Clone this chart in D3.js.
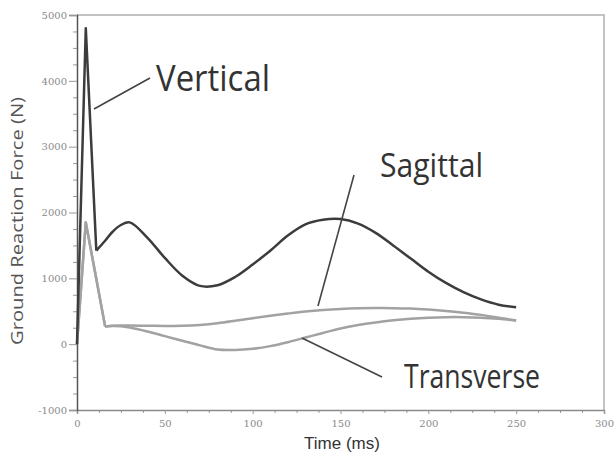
<!DOCTYPE html>
<html>
<head>
<meta charset="utf-8">
<script src="https://cdn.jsdelivr.net/npm/d3@7"></script>
<style>
  body { margin: 0; background: #fff; }
  svg { display: block; }
</style>
</head>
<body>
<div id="plot"></div>
<script>
// ---- data ----
var timeMs = [0, 5, 11, 16, 20, 25, 30, 40, 50, 60, 70, 80, 90, 100, 110, 120,
              130, 140, 150, 160, 170, 180, 190, 200, 210, 220, 230, 240, 250];
var vertical = [0, 4800, 1420, 1570, 1700, 1810, 1850, 1620, 1310, 1040, 885, 895, 1020, 1210, 1420, 1650,
                1820, 1890, 1900, 1830, 1690, 1500, 1300, 1100, 930, 790, 680, 600, 560];
var sagittal = [0, 1850, 990, 270, 278, 282, 283, 280, 276, 278, 292, 318, 355, 395, 432, 465,
                495, 518, 534, 544, 548, 547, 540, 525, 505, 478, 445, 402, 360];
var transverse = [0, 1850, 990, 270, 275, 272, 252, 192, 122, 52, -18, -82, -88, -70, -30, 30,
                  100, 170, 238, 290, 330, 362, 386, 402, 410, 410, 402, 385, 360];
var yTicks = [-1000, 0, 1000, 2000, 3000, 4000, 5000];
var xTicks = [0, 50, 100, 150, 200, 250, 300];

// ---- workspace ----
var svgWidth = 614, svgHeight = 461;
var margin = { top: 15, right: 10, bottom: 51, left: 77 };
var width = svgWidth - margin.left - margin.right;
var height = svgHeight - margin.top - margin.bottom;

var svg = d3.select("#plot").append("svg")
    .attr("width", svgWidth)
    .attr("height", svgHeight);

var chartGroup = svg.append("g")
    .attr("transform", `translate(${margin.left}, ${margin.top})`);

var xScale = d3.scaleLinear().domain([0, 300]).range([0, width]);
var yScale = d3.scaleLinear().domain([-1000, 5000]).range([height, 0]);

// frame (top + right)
chartGroup.append("path")
    .attr("d", `M0,0H${width}V${height}`)
    .attr("fill", "none")
    .attr("stroke", "#b0b0b0")
    .attr("stroke-width", 1.5);

// minor ticks
var xMinor = d3.range(0, 301, 12.5).filter(v => v % 50 !== 0);
var yMinor = d3.range(-1000, 5001, 250).filter(v => v % 1000 !== 0);

chartGroup.append("g")
    .attr("class", "minor")
    .attr("transform", `translate(0, ${height})`)
    .call(d3.axisBottom(xScale).tickValues(xMinor).tickSize(3).tickFormat(""));
chartGroup.append("g")
    .attr("class", "minor")
    .call(d3.axisLeft(yScale).tickValues(yMinor).tickSize(4).tickFormat(""));

// axes
var bottomAxis = d3.axisBottom(xScale).tickValues(xTicks).tickSize(4).tickPadding(6)
    .tickFormat(d => String(d));
var leftAxis = d3.axisLeft(yScale).tickValues(yTicks).tickSize(8).tickPadding(2)
    .tickFormat(d => String(d));

chartGroup.append("g")
    .attr("class", "xaxis")
    .attr("transform", `translate(0, ${height})`)
    .call(bottomAxis);
chartGroup.append("g")
    .attr("class", "yaxis")
    .call(leftAxis);

svg.selectAll(".minor path").remove();
svg.selectAll(".minor line").attr("stroke", "#999");
svg.selectAll(".xaxis path").attr("stroke", "#8a8a8a").attr("stroke-width", 1.5);
svg.selectAll(".yaxis path").attr("stroke", "#555").attr("stroke-width", 1.5);
svg.selectAll(".xaxis line, .yaxis line").attr("stroke", "#999");
svg.selectAll(".xaxis text, .yaxis text")
    .attr("fill", "#8a8a8a")
    .attr("font-family", "DejaVu Serif")
    .attr("font-size", "10px");

// ---- lines ----
// impact spike is drawn straight, the rest smooth (split at index k)
function lineFor(values, k) {
    var pts = values.map((v, i) => [xScale(timeMs[i]), yScale(v)]);
    var straight = d3.line().curve(d3.curveLinear)(pts.slice(0, k + 1));
    var smooth = d3.line().curve(d3.curveCatmullRom.alpha(0.5))(pts.slice(k));
    return straight + smooth;
}

chartGroup.append("path")
    .attr("d", lineFor(transverse, 3))
    .attr("fill", "none")
    .attr("stroke", "#a2a2a2")
    .attr("stroke-width", 2.5)
    .attr("stroke-linejoin", "round");
chartGroup.append("path")
    .attr("d", lineFor(sagittal, 3))
    .attr("fill", "none")
    .attr("stroke", "#a2a2a2")
    .attr("stroke-width", 2.5)
    .attr("stroke-linejoin", "round");
chartGroup.append("path")
    .attr("d", lineFor(vertical, 2))
    .attr("fill", "none")
    .attr("stroke", "#3c3c3c")
    .attr("stroke-width", 2.5)
    .attr("stroke-linejoin", "round");

// ---- callout labels ----
var callouts = [
    { text: "Vertical",   x: 156, y: 91,  size: 36, len: 114, from: [94, 109],  to: [150, 78] },
    { text: "Sagittal",   x: 380, y: 177, size: 33, len: 103, from: [318, 306], to: [354, 175] },
    { text: "Transverse", x: 404, y: 388, size: 32, len: 136, from: [302, 338], to: [382, 377] }
];

callouts.forEach(c => {
    svg.append("line")
        .attr("x1", c.from[0]).attr("y1", c.from[1])
        .attr("x2", c.to[0]).attr("y2", c.to[1])
        .attr("stroke", "#444")
        .attr("stroke-width", 1.6);
    svg.append("text")
        .attr("x", c.x)
        .attr("y", c.y)
        .attr("font-family", "Open Sans")
        .attr("font-size", c.size + "px")
        .attr("textLength", c.len)
        .attr("lengthAdjust", "spacingAndGlyphs")
        .attr("fill", "#333")
        .text(c.text);
});

// axis titles
svg.append("text")
    .attr("x", 342)
    .attr("y", 449)
    .attr("text-anchor", "middle")
    .attr("font-family", "Liberation Sans")
    .attr("font-size", "17px")
    .attr("fill", "#333")
    .text("Time (ms)");

svg.append("text")
    .attr("transform", "translate(23, 221) rotate(-90)")
    .attr("text-anchor", "middle")
    .attr("font-family", "Open Sans")
    .attr("font-size", "17px")
    .attr("textLength", 248)
    .attr("lengthAdjust", "spacingAndGlyphs")
    .attr("fill", "#555")
    .text("Ground Reaction Force (N)");
</script>
</body>
</html>
